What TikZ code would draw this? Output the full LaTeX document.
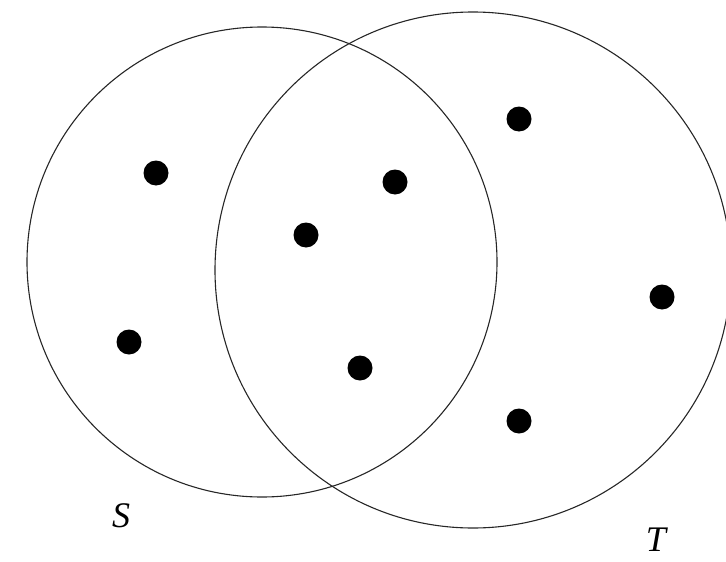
\documentclass[tikz,border=0pt]{standalone}
\usepackage{fontspec}
\newfontfamily\labfont{Liberation Serif Italic}
\begin{document}
\begin{tikzpicture}[x=1pt, y=-1pt,
    setring/.style={draw=black!85, line width=1.1pt, circle, inner sep=0pt},
    elem/.style={circle, fill=black, inner sep=0pt, minimum size=25pt},
    setname/.style={font=\fontsize{36}{40}\labfont, inner sep=0pt}]
  \useasboundingbox (0,0) rectangle (726,562);
  % the two sets
  \node[setring, minimum size=470pt] (setS) at (262,262) {};
  \node[setring, minimum size=516pt] (setT) at (473,270) {};
  % elements
  \node[elem] (s1) at (156,173) {};
  \node[elem] (s2) at (129,342) {};
  \node[elem] (m1) at (306,235) {};
  \node[elem] (m2) at (395,182) {};
  \node[elem] (m3) at (360,368) {};
  \node[elem] (t1) at (519,119) {};
  \node[elem] (t2) at (662,297) {};
  \node[elem] (t3) at (519,421) {};
  % labels
  \node[setname] (labS) at (121,516) {S};
  \node[setname] (labT) at (656,540) {T};
\end{tikzpicture}
\end{document}
